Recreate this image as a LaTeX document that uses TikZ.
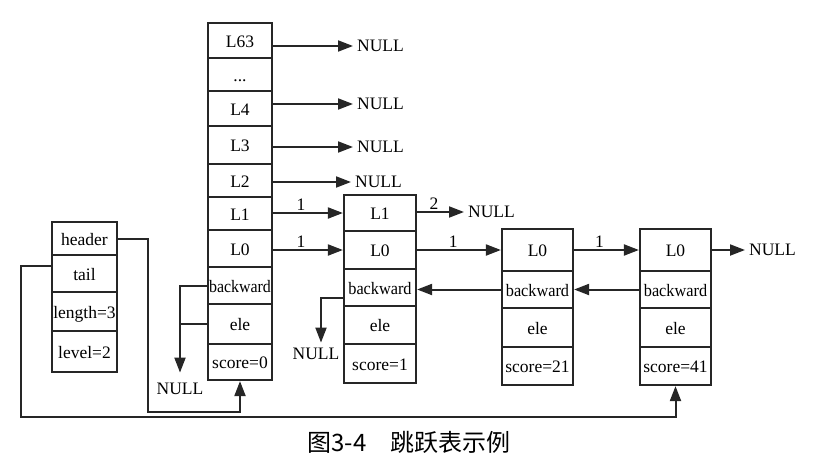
\documentclass[tikz,border=0pt]{standalone}
\usepackage{fontspec}
\setmainfont{Liberation Serif}
\newfontfamily\cjk{Noto Sans CJK SC}
\usetikzlibrary{arrows.meta}
\begin{document}
\begin{tikzpicture}[x=1pt,y=-1pt,
  ink/.style={draw=black!85},
  cell/.style={ink, line width=2.2pt, inner sep=0pt, font=\fontsize{17.5}{19}\selectfont, text height=13pt, text depth=0pt},
  nul/.style={font=\fontsize{17.5}{19}\selectfont, inner xsep=4pt, inner ysep=2pt},
  arr/.style={ink, line width=2pt, -{Triangle[length=15pt,width=11pt]}},
  lbl/.style={above, font=\fontsize{17.5}{19}\selectfont, inner sep=2pt, pos=0.4}
]
\useasboundingbox (0,0) rectangle (839,463);
% header column
\node[cell,minimum width=64,minimum height=35] (h63) at (240,40.5) {L63};
\node[cell,minimum width=64,minimum height=33] (hd) at (240,74.5) {...};
\node[cell,minimum width=64,minimum height=35] (h4) at (240,108.5) {L4};
\node[cell,minimum width=64,minimum height=38] (h3) at (240,145) {L3};
\node[cell,minimum width=64,minimum height=33] (h2) at (240,180.5) {L2};
\node[cell,minimum width=64,minimum height=33] (h1) at (240,213.5) {L1};
\node[cell,minimum width=64,minimum height=37] (h0) at (240,248.5) {L0};
\node[cell,minimum width=64,minimum height=37] (hb) at (240,285.5) {\scalebox{0.91}[1]{backward}};
\node[cell,minimum width=64,minimum height=40] (he) at (240,324) {ele};
\node[cell,minimum width=64,minimum height=36] (hs) at (240,362) {score=0};
% skiplist struct
\node[cell,minimum width=65,minimum height=33] (sh) at (84.5,238.5) {header};
\node[cell,minimum width=65,minimum height=37] (st) at (84.5,273.5) {tail};
\node[cell,minimum width=65,minimum height=39] (sl) at (84.5,311.5) {length=3};
\node[cell,minimum width=65,minimum height=41] (sv) at (84.5,351.5) {level=2};
% node 1
\node[cell,minimum width=72,minimum height=36] (a1) at (380,213) {L1};
\node[cell,minimum width=72,minimum height=38] (a0) at (380,250) {L0};
\node[cell,minimum width=72,minimum height=37] (ab) at (380,287.5) {\scalebox{0.93}[1]{backward}};
\node[cell,minimum width=72,minimum height=38] (ae) at (380,325) {ele};
\node[cell,minimum width=72,minimum height=39] (as) at (380,363.5) {score=1};
% node 2
\node[cell,minimum width=71,minimum height=42] (b0) at (537.5,250) {L0};
\node[cell,minimum width=71,minimum height=37] (bb) at (537.5,289.5) {\scalebox{0.93}[1]{backward}};
\node[cell,minimum width=71,minimum height=39] (be) at (537.5,327.5) {ele};
\node[cell,minimum width=71,minimum height=38] (bs) at (537.5,366) {score=21};
% node 3
\node[cell,minimum width=71,minimum height=42] (c0) at (675.5,250) {L0};
\node[cell,minimum width=71,minimum height=37] (cb) at (675.5,289.5) {\scalebox{0.93}[1]{backward}};
\node[cell,minimum width=71,minimum height=39] (ce) at (675.5,327.5) {ele};
\node[cell,minimum width=71,minimum height=38] (cs) at (675.5,366) {score=41};
% NULL nodes
\node[nul,anchor=west] (n63) at (353,46) {NULL};
\node[nul,anchor=west] (n4) at (353,104) {NULL};
\node[nul,anchor=west] (n3) at (353,147) {NULL};
\node[nul,anchor=west] (n2) at (351,182) {NULL};
\node[nul,anchor=west] (na1) at (464,212) {NULL};
\node[nul,anchor=west] (nc) at (745,250) {NULL};
\node[nul] (nh) at (180,389) {NULL};
\node[nul] (nb) at (316,354) {NULL};
% arrows to NULL from header
\draw[arr] (h63.east |- n63.west) -- (n63.west);
\draw[arr] (h4.east |- n4.west) -- (n4.west);
\draw[arr] (h3.east |- n3.west) -- (n3.west);
\draw[arr] (h2.east |- n2.west) -- (n2.west);
% forward links
\draw[arr] (h1.east |- a1.west) -- (a1.west) node[lbl] {1};
\draw[arr] (h0.east |- a0.west) -- (a0.west) node[lbl] {1};
\draw[arr] (a1.east |- na1.west) -- (na1.west) node[lbl,pos=0.36] {2};
\draw[arr] (a0.east) -- (b0.west) node[lbl,pos=0.43] {1};
\draw[arr] (b0.east) -- (c0.west) node[lbl,pos=0.39] {1};
\draw[arr] (c0.east) -- (nc.west);
% backward links
\draw[arr] (bb.west) -- (bb.west -| ab.east);
\draw[arr] (cb.west) -- (cb.west -| bb.east);
\draw[arr, shorten >=3.4pt] ([yshift=-10.5pt]ab.west) -| ([xshift=5pt]nb.north);
\draw[arr, shorten >=8.4pt] (hb.west) -| (nh.north);
\draw[ink, line width=2pt] (he.west) -- (he.west -| nh.north);
% header and tail pointers
\coordinate (p1) at (148,412);
\coordinate (p2) at (21,417);
\draw[arr] (sh.east) -| (p1) -| (hs.south);
\draw[arr] ([yshift=8pt]st.west) -| (p2) -| (cs.south);
% caption
\node[font=\cjk\fontsize{24}{26}\selectfont, inner sep=0pt] (cap) at (409,442) {图3-4\hspace{1em}跳跃表示例};
\end{tikzpicture}
\end{document}
